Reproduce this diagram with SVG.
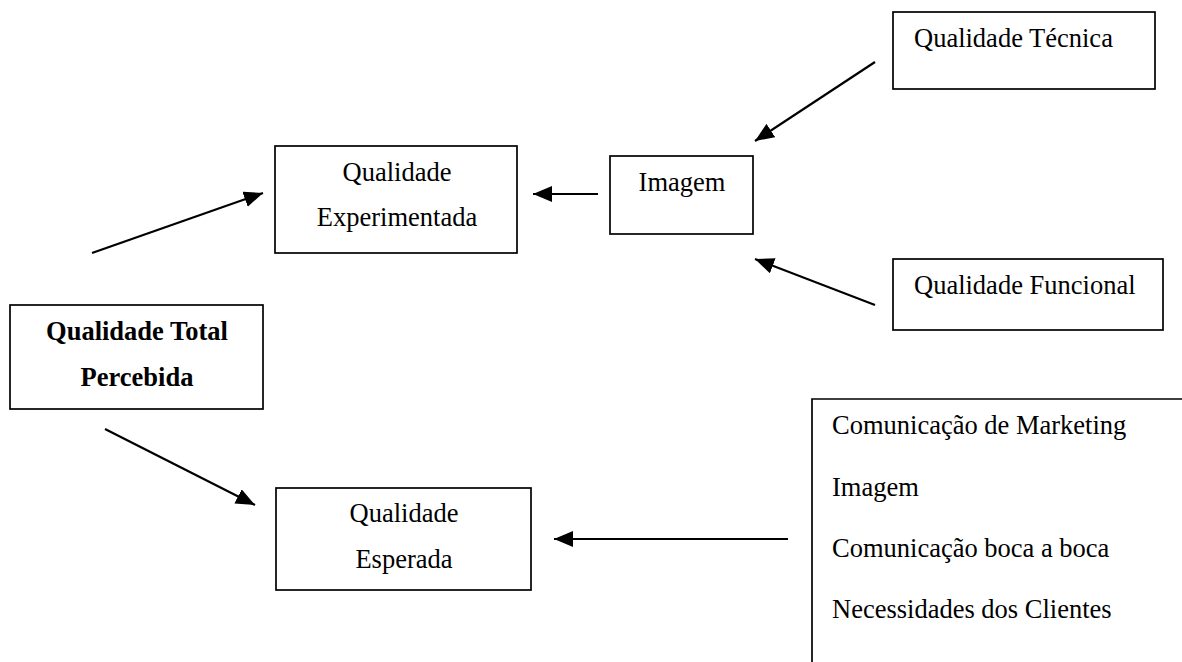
<svg xmlns="http://www.w3.org/2000/svg" width="1182" height="662" viewBox="0 0 1182 662">
<style>
.box{fill:#fff;stroke:#000;stroke-width:1.7}
.t{font-family:"Liberation Serif","Times New Roman",serif;font-size:26.5px;fill:#000}
.c{text-anchor:middle}
.b{font-weight:bold}
.conn line{stroke:#000;stroke-width:2.2;marker-end:url(#ah)}
</style>
<defs>
<marker id="ah" markerUnits="userSpaceOnUse" markerWidth="20" markerHeight="16" refX="19" refY="8" orient="auto">
<path d="M0,0 L19,8 L0,16 z" fill="#000"/>
</marker>
</defs>
<rect width="1182" height="662" fill="#fff"/>
<g id="qtp">
<rect class="box" x="10" y="305" width="253" height="104"/>
<text class="t c b" x="137" y="340">Qualidade Total</text>
<text class="t c b" x="137" y="386">Percebida</text>
</g>
<g id="qexp">
<rect class="box" x="275" y="146" width="242" height="107"/>
<text class="t c" x="397" y="181">Qualidade</text>
<text class="t c" x="397" y="226">Experimentada</text>
</g>
<g id="imagem">
<rect class="box" x="610" y="156" width="143" height="78"/>
<text class="t c" x="682" y="191">Imagem</text>
</g>
<g id="qtec">
<rect class="box" x="893" y="12" width="262" height="77"/>
<text class="t" x="914" y="47">Qualidade Técnica</text>
</g>
<g id="qfun">
<rect class="box" x="893" y="259" width="270" height="71"/>
<text class="t" x="914" y="294">Qualidade Funcional</text>
</g>
<g id="qesp">
<rect class="box" x="276" y="488" width="255" height="102"/>
<text class="t c" x="404" y="522">Qualidade</text>
<text class="t c" x="404" y="568">Esperada</text>
</g>
<g id="fatores">
<path d="M812,662 V399 H1183" fill="none" stroke="#000" stroke-width="1.7"/>
<text class="t" x="832" y="434">Comunicação de Marketing</text>
<text class="t" x="832" y="496">Imagem</text>
<text class="t" x="832" y="557">Comunicação boca a boca</text>
<text class="t" x="832" y="618">Necessidades dos Clientes</text>
</g>
<g id="connectors" class="conn">
<line x1="92" y1="253" x2="263" y2="193"/>
<line x1="105" y1="429" x2="255" y2="505"/>
<line x1="598" y1="194" x2="533" y2="194"/>
<line x1="875" y1="62" x2="755" y2="141"/>
<line x1="875" y1="305" x2="755" y2="259"/>
<line x1="788" y1="539" x2="554" y2="539"/>
</g>
</svg>
